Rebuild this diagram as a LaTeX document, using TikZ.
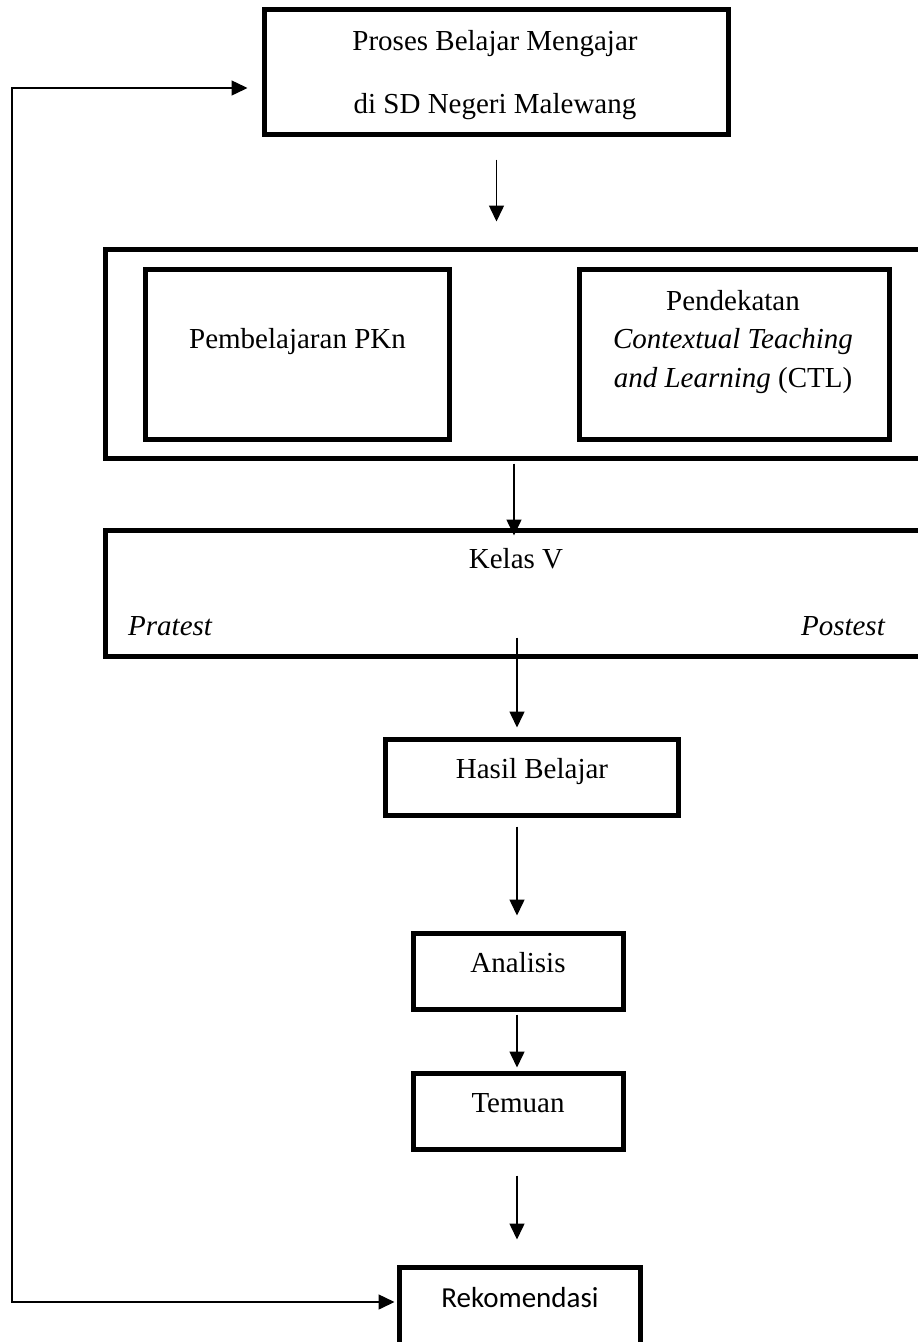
\documentclass[tikz,border=0pt]{standalone}
\usepackage{fontspec}
\setmainfont{Liberation Serif}
\newfontfamily\calibrifont{Carlito}
\usetikzlibrary{arrows.meta}
\begin{document}
\begin{tikzpicture}[x=1pt,y=-1pt,
  box/.style={draw, line width=5pt, rectangle, inner sep=0pt},
  txt/.style={inner sep=0pt, anchor=base, font=\fontsize{29}{34}\selectfont},
  arr/.style={line width=1.5pt, -{Triangle[length=16pt,width=15pt]}},
  fbarr/.style={line width=1.5pt, {Triangle[length=16pt,width=15pt]}-{Triangle[length=16pt,width=15pt]}},
]
\useasboundingbox (0,0) rectangle (918,1342);
\clip (0,0) rectangle (918,1342);
\fill[white] (0,0) rectangle (918,1342);
% boxes
\node[box, minimum width=464pt, minimum height=125pt] (A) at (496.5,72) {};
\node[box, minimum width=832pt, minimum height=209pt] (B) at (521.5,354) {};
\node[box, minimum width=304pt, minimum height=170pt] (C) at (297.5,354.5) {};
\node[box, minimum width=310pt, minimum height=170pt] (D) at (734.5,354.5) {};
\node[box, minimum width=832pt, minimum height=126pt] (E) at (521.5,593.5) {};
\node[box, minimum width=293pt, minimum height=76pt] (F) at (532,777.5) {};
\node[box, minimum width=210pt, minimum height=76pt] (G) at (518.5,971.5) {};
\node[box, minimum width=210pt, minimum height=76pt] (H) at (518.5,1111.5) {};
\node[box, minimum width=241pt, minimum height=125pt] (I) at (520,1330) {};
% texts
\node[txt] (tA1) at (495,50) {Proses Belajar Mengajar};
\node[txt] (tA2) at (495,113) {di SD Negeri Malewang};
\node[txt] (tC) at (297.5,348) {Pembelajaran PKn};
\node[txt] (tD1) at (733,310) {Pendekatan};
\node[txt] (tD2) at (733,348) {\itshape Contextual Teaching};
\node[txt] (tD3) at (733,387) {\textit{and Learning} (CTL)};
\node[txt] (tE) at (516,568) {Kelas V};
\node[txt, anchor=base west] (tPre) at (128,635) {\itshape Pratest};
\node[txt, anchor=base east] (tPost) at (885,635) {\itshape Postest};
\node[txt] (tF) at (532,778) {Hasil Belajar};
\node[txt] (tG) at (518,972) {Analisis};
\node[txt] (tH) at (518,1112) {Temuan};
\node[txt, font=\calibrifont\fontsize{29}{34}\selectfont] (tI) at (520,1307) {Rekomendasi};
% connectors
\coordinate (cB) at (514,0);
\coordinate (cM) at (517,0);
\coordinate (fbt) at (12,88);
\coordinate (fbb) at (12,1302);
\draw[arr, shorten <=22.5pt, shorten >=25.5pt] (A.south) -- (A.south |- B.north);
\draw[arr, shorten <=2.5pt, shorten >=-7.5pt] (B.south -| cB) -- (E.north -| cB);
\draw[arr, shorten <=-21.5pt, shorten >=9.5pt] (E.south -| cM) -- (F.north -| cM);
\draw[arr, shorten <=8.5pt, shorten >=15.5pt] (F.south -| cM) -- (G.north -| cM);
\draw[arr, shorten <=2.5pt, shorten >=3.5pt] (G.south -| cM) -- (H.north -| cM);
\draw[arr, shorten <=23.5pt, shorten >=25.5pt] (H.south -| cM) -- (I.north -| cM);
\draw[fbarr, shorten <=14.5pt, shorten >=2.5pt] (A.west |- fbt) -- (fbt) -- (fbb) -- (I.west |- fbb);
\end{tikzpicture}
\end{document}
